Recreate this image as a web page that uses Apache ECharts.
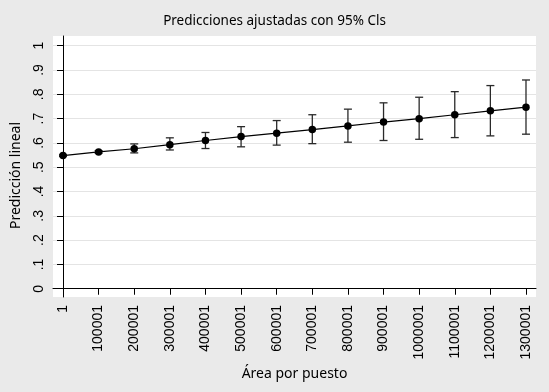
<!DOCTYPE html>
<html>
<head>
<meta charset="utf-8">
<script src="https://cdn.jsdelivr.net/npm/echarts@6/dist/echarts.min.js"></script>
<style>
  html, body { margin: 0; padding: 0; background: #eaeaea; }
  #chart { width: 549px; height: 392px; }
</style>
</head>
<body>
<div id="chart"></div>
<script>
// valores
const area = [1, 100001, 200001, 300001, 400001, 500001, 600001, 700001, 800001, 900001, 1000001, 1100001, 1200001, 1300001];
const pred = [0.548, 0.563, 0.576, 0.593, 0.610, 0.626, 0.640, 0.655, 0.670, 0.686, 0.700, 0.716, 0.732, 0.747];
const lower = [0.545, 0.558, 0.559, 0.571, 0.577, 0.584, 0.591, 0.597, 0.603, 0.610, 0.615, 0.622, 0.629, 0.636];
const upper = [0.551, 0.568, 0.596, 0.621, 0.643, 0.667, 0.692, 0.716, 0.739, 0.765, 0.788, 0.811, 0.836, 0.859];
const yTicks = [0, 0.1, 0.2, 0.3, 0.4, 0.5, 0.6, 0.7, 0.8, 0.9, 1];

const chart = echarts.init(document.getElementById('chart'));

const tickFont = { fontFamily: 'Liberation Sans', fontSize: 14, color: '#000' };

chart.setOption({
  backgroundColor: '#eaeaea',
  animation: false,
  title: {
    text: 'Predicciones ajustadas con 95% Cls',
    left: 'center',
    top: 9,
    textStyle: { fontFamily: 'Noto Sans', fontSize: 13.5, fontWeight: 'normal', color: '#000' }
  },
  grid: { left: 53, right: 13, top: 36, bottom: 95, show: true, backgroundColor: '#fff', borderWidth: 0 },
  xAxis: {
    type: 'value',
    min: -28090,
    max: 1328091,
    name: 'Área por puesto',
    nameLocation: 'middle',
    nameGap: 62,
    nameTextStyle: { fontFamily: 'Noto Sans', fontSize: 14, color: '#000' },
    axisLine: { lineStyle: { color: '#000', width: 1 } },
    axisTick: { show: true, length: 6, customValues: area, lineStyle: { color: '#000' } },
    axisLabel: { customValues: area, rotate: 90, margin: 8, ...tickFont, formatter: v => String(v) },
    splitLine: { show: false }
  },
  yAxis: {
    type: 'value',
    min: -0.034,
    max: 1.04,
    name: 'Predicción lineal',
    nameLocation: 'middle',
    nameGap: 30,
    nameTextStyle: { fontFamily: 'Noto Sans', fontSize: 14, color: '#000', padding: [0, 18, 0, 0] },
    axisLine: { show: true, lineStyle: { color: '#000', width: 1 } },
    axisTick: { show: true, length: 6, customValues: yTicks, lineStyle: { color: '#000' } },
    axisLabel: {
      customValues: yTicks,
      rotate: 90,
      margin: 7,
      ...tickFont,
      formatter: v => {
        const r = Math.round(v * 10) / 10;
        if (r === 0) return '0';
        if (r === 1) return '1';
        return r.toFixed(1).replace(/^0/, '');
      }
    },
    splitLine: { show: true, lineStyle: { color: '#e4e4e4', width: 1 } }
  },
  series: [
    {
      type: 'custom',
      name: 'ic',
      data: area.map((a, i) => [a, lower[i], upper[i]]),
      renderItem: (params, api) => {
        const lo = api.coord([api.value(0), api.value(1)]);
        const hi = api.coord([api.value(0), api.value(2)]);
        const w = 4;
        const style = { stroke: '#2a2a2a', lineWidth: 1.3 };
        return {
          type: 'group',
          children: [
            { type: 'line', shape: { x1: lo[0], y1: lo[1], x2: hi[0], y2: hi[1] }, style },
            { type: 'line', shape: { x1: lo[0] - w, y1: lo[1], x2: lo[0] + w, y2: lo[1] }, style },
            { type: 'line', shape: { x1: hi[0] - w, y1: hi[1], x2: hi[0] + w, y2: hi[1] }, style }
          ]
        };
      },
      z: 2
    },
    {
      type: 'line',
      name: 'pred',
      data: area.map((a, i) => [a, pred[i]]),
      symbol: 'circle',
      symbolSize: 7.5,
      lineStyle: { color: '#000', width: 1.2 },
      itemStyle: { color: '#000' },
      z: 3
    }
  ]
});
</script>
</body>
</html>
